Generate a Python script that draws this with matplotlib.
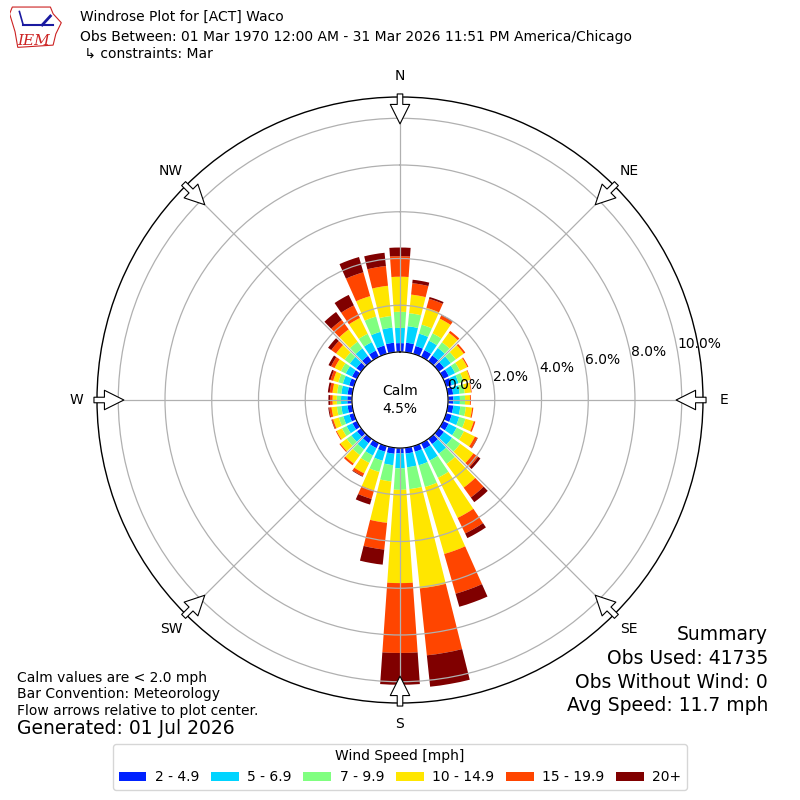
import numpy as np
import matplotlib
matplotlib.use("Agg")
import matplotlib.pyplot as plt
from matplotlib.patches import Patch, Polygon

# wind direction bins (deg, meteorological: where the wind blows from)
directions = list(range(0, 360, 10))
compass = ["N", "NE", "E", "SE", "S", "SW", "W", "NW"]
speed_labels = ["2 - 4.9", "5 - 6.9", "7 - 9.9", "10 - 14.9", "15 - 19.9", "20+"]
speed_colors = ["#0022ff", "#00d4ff", "#80ff80", "#ffe600", "#ff4500", "#800000"]

# frequency (% of obs) per direction, one list per speed class
spd_2_5 = [0.38, 0.41, 0.35, 0.32, 0.30, 0.28, 0.27, 0.25, 0.23, 0.23, 0.24, 0.25,
           0.26, 0.27, 0.28, 0.28, 0.25, 0.25, 0.23, 0.26, 0.25, 0.24, 0.23, 0.22,
           0.21, 0.20, 0.20, 0.20, 0.20, 0.21, 0.23, 0.25, 0.28, 0.30, 0.37, 0.41]
spd_5_7 = [0.65, 0.71, 0.55, 0.45, 0.40, 0.35, 0.30, 0.30, 0.28, 0.28, 0.30, 0.33,
           0.38, 0.43, 0.50, 0.55, 0.60, 0.59, 0.64, 0.49, 0.40, 0.35, 0.33, 0.30,
           0.28, 0.27, 0.27, 0.27, 0.27, 0.28, 0.30, 0.35, 0.40, 0.40, 0.61, 0.65]
spd_7_10 = [0.69, 0.56, 0.40, 0.35, 0.30, 0.27, 0.23, 0.22, 0.22, 0.22, 0.24, 0.28,
            0.35, 0.43, 0.55, 0.82, 0.97, 0.94, 0.92, 0.70, 0.50, 0.35, 0.30, 0.25,
            0.22, 0.20, 0.19, 0.18, 0.18, 0.20, 0.23, 0.28, 0.35, 0.40, 0.68, 0.50]
spd_10_15 = [1.50, 0.80, 0.75, 0.70, 0.50, 0.42, 0.35, 0.30, 0.27, 0.21, 0.27, 0.37,
             0.52, 0.70, 1.25, 1.91, 2.98, 4.27, 3.99, 1.78, 0.82, 0.50, 0.45, 0.33,
             0.25, 0.25, 0.23, 0.18, 0.20, 0.23, 0.30, 0.45, 0.65, 0.75, 0.91, 1.30]
spd_15_20 = [0.88, 0.49, 0.40, 0.15, 0.10, 0.08, 0.05, 0.03, 0.03, 0.04, 0.05, 0.07,
             0.12, 0.25, 0.52, 0.74, 1.77, 2.88, 2.99, 1.15, 0.38, 0.13, 0.09, 0.05,
             0.04, 0.06, 0.10, 0.11, 0.12, 0.12, 0.17, 0.25, 0.50, 0.60, 1.06, 0.85]
spd_20_up = [0.37, 0.15, 0.08, 0.03, 0.0, 0.0, 0.0, 0.0, 0.0, 0.0, 0.0, 0.0,
             0.02, 0.12, 0.25, 0.22, 0.58, 1.35, 1.36, 0.65, 0.25, 0.03, 0.0, 0.0,
             0.0, 0.02, 0.04, 0.07, 0.08, 0.08, 0.12, 0.17, 0.42, 0.50, 0.68, 0.57]
speed_bins = [spd_2_5, spd_5_7, spd_7_10, spd_10_15, spd_15_20, spd_20_up]

calm_pct = 4.5
r_ticks = [0, 2, 4, 6, 8, 10]

fig = plt.figure(figsize=(8, 8), dpi=100)
ax = fig.add_axes([0.12125, 0.12125, 0.7575, 0.7575], projection="polar")
ax.set_theta_zero_location("N")
ax.set_theta_direction(-1)

theta = np.radians(directions)
bottom = np.zeros(len(directions))
for vals, color in zip(speed_bins, speed_colors):
    vals = np.array(vals)
    ax.bar(theta, vals, width=np.radians(8), bottom=bottom, color=color,
           linewidth=0, align="center")
    bottom += vals

ax.set_rorigin(-2.054)
ax.set_ylim(0, 10.91)
ax.set_yticks(r_ticks)
ax.set_yticklabels([f"{t:.1f}%" for t in r_ticks], fontsize=10)
ax.set_rlabel_position(80)
ax.set_xticks(np.radians(range(0, 360, 45)))
ax.set_xticklabels(compass, fontsize=10)
ax.tick_params(axis="x", pad=4.5)
ax.grid(True, color="#b0b0b0", linewidth=0.9)
ax.spines["polar"].set_linewidth(1.0)

# hollow flow arrows at the compass points
for ang in range(0, 360, 45):
    ax.annotate("", xy=(np.radians(ang), 9.76), xytext=(np.radians(ang), 11.04),
                arrowprops=dict(arrowstyle="simple,head_length=1.4,head_width=1.4,tail_width=0.4",
                                fc="white", ec="black", lw=0.8, shrinkA=0, shrinkB=0),
                annotation_clip=False)

ax.text(0.5, 0.5, f"Calm\n{calm_pct:.1f}%", transform=ax.transAxes,
        ha="center", va="center", fontsize=10, linespacing=1.3)

# header
fig.text(0.1, 1 - 17 / 800, "Windrose Plot for [ACT] Waco", fontsize=10, va="center")
fig.text(0.1, 1 - 37 / 800,
         "Obs Between: 01 Mar 1970 12:00 AM - 31 Mar 2026 11:51 PM America/Chicago",
         fontsize=10, va="center")
fig.text(0.1, 1 - 54 / 800, " \u21b3 constraints: Mar", fontsize=10, va="center")

# rough IEM logo
logo = fig.add_axes([0.012, 0.938, 0.068, 0.056])
logo.set_xlim(0, 1)
logo.set_ylim(0, 1)
logo.axis("off")
logo.add_patch(Polygon([[0.05, 0.95], [0.75, 0.95], [0.8, 0.8], [0.95, 0.6], [0.85, 0.35],
                        [0.8, 0.1], [0.15, 0.05], [0.1, 0.4], [0.0, 0.8]],
                       closed=True, fill=False, ec="#cc2222", lw=0.8))
logo.plot([0.25, 0.8], [0.55, 0.55], color="#1a1aa0", lw=1.5)
logo.plot([0.25, 0.18], [0.55, 0.85], color="#1a1aa0", lw=1.2)
logo.plot([0.6, 0.75], [0.55, 0.75], color="#1a1aa0", lw=2.0)
logo.text(0.45, 0.2, "IEM", color="#cc2222", fontsize=11, family="DejaVu Serif",
          style="italic", ha="center", va="center")

# notes bottom left
fig.text(17 / 800, 1 - 678 / 800, "Calm values are < 2.0 mph", fontsize=10, va="center")
fig.text(17 / 800, 1 - 694 / 800, "Bar Convention: Meteorology", fontsize=10, va="center")
fig.text(17 / 800, 1 - 711 / 800, "Flow arrows relative to plot center.", fontsize=10, va="center")
fig.text(17 / 800, 1 - 729 / 800, "Generated: 01 Jul 2026", fontsize=13.5, va="center")

# summary bottom right
summary = ["Summary", "Obs Used: 41735", "Obs Without Wind: 0", "Avg Speed: 11.7 mph"]
for i, line in enumerate(summary):
    fig.text(768 / 800, 1 - (635 + 23.5 * i) / 800, line, fontsize=13.5,
             ha="right", va="center")

handles = [Patch(facecolor=c, edgecolor="none", label=l)
           for c, l in zip(speed_colors, speed_labels)]
fig.legend(handles=handles, ncol=6, loc="lower center", bbox_to_anchor=(0.5, 0.004),
           title="Wind Speed [mph]", fontsize=10, title_fontsize=10,
           handlelength=2.0, handleheight=0.7, columnspacing=0.85, handletextpad=0.6)

fig.savefig("out.png", dpi=100)
